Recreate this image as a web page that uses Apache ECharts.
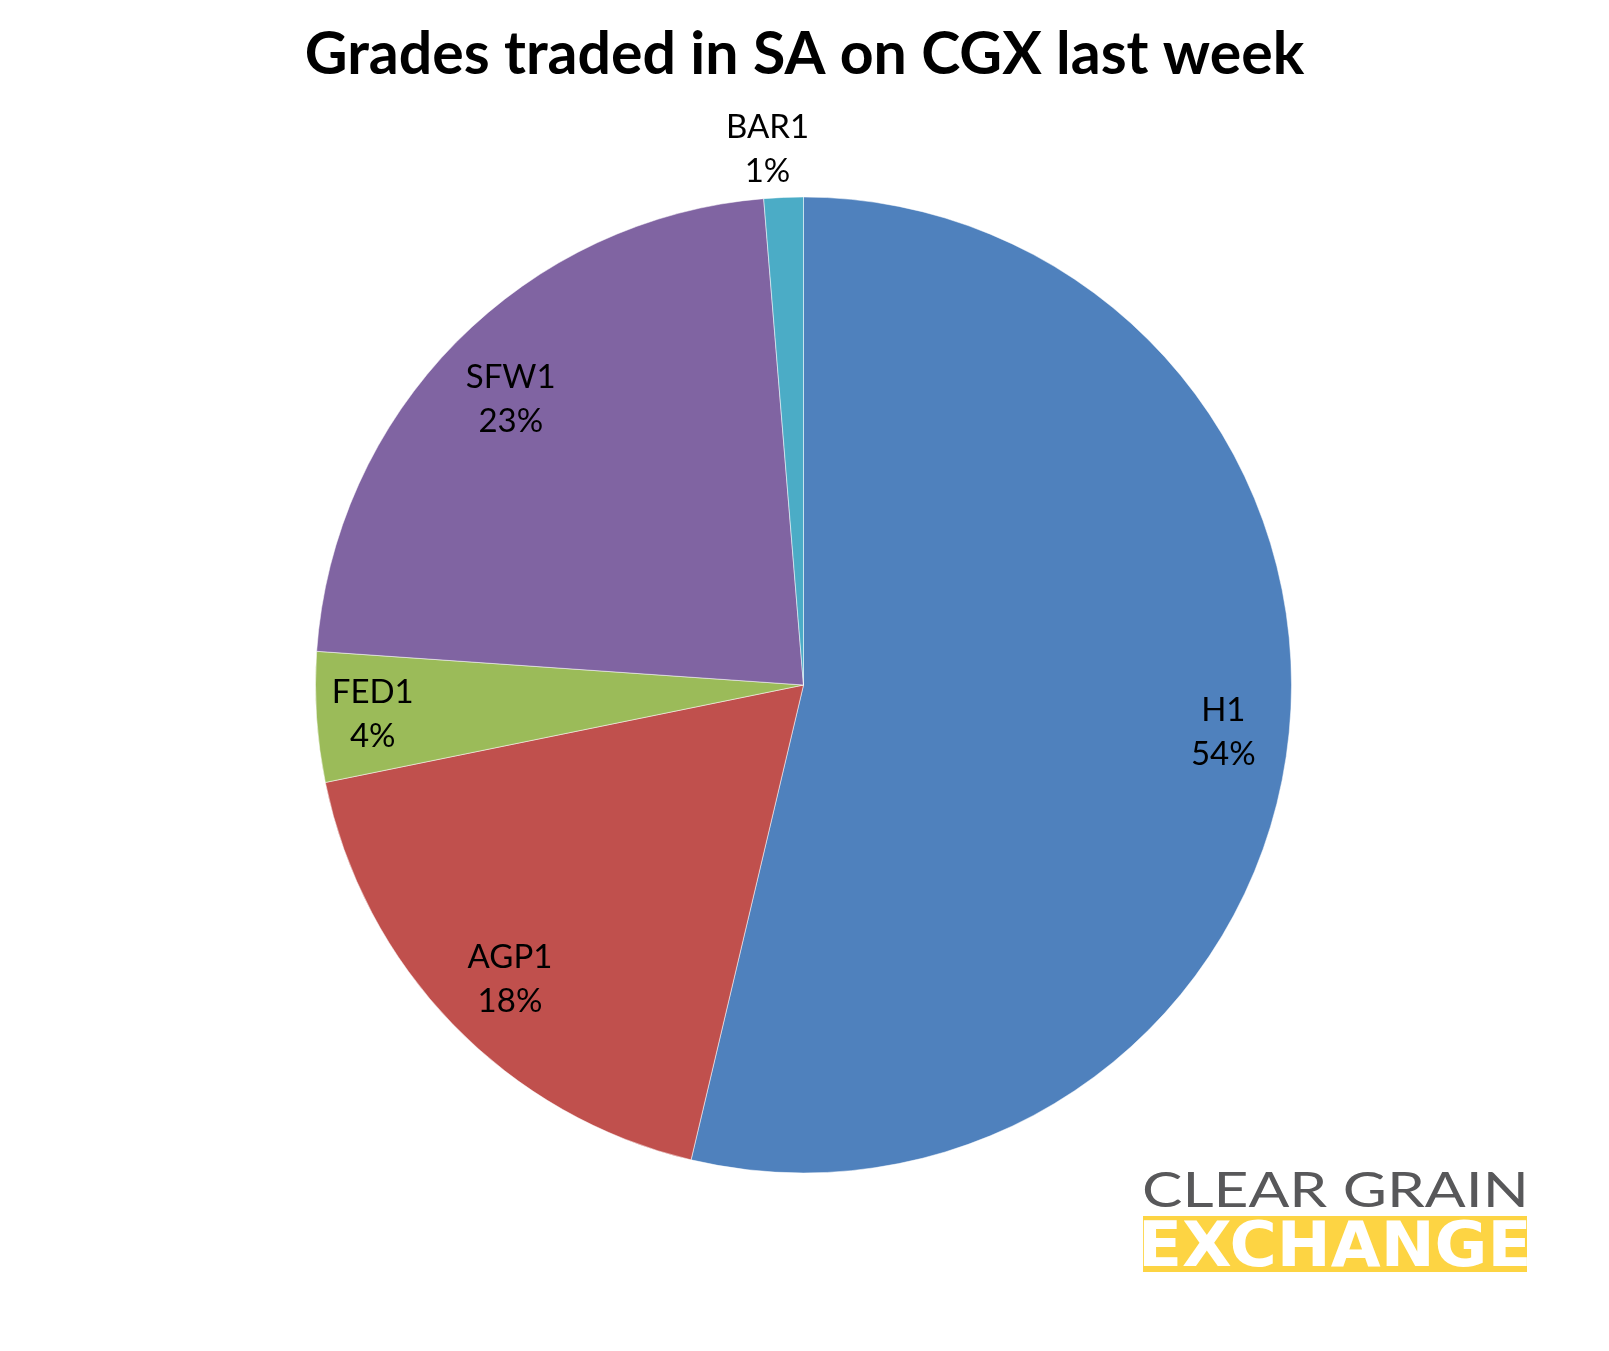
<!DOCTYPE html>
<html>
<head>
<meta charset="utf-8">
<script src="https://cdn.jsdelivr.net/npm/echarts@6/dist/echarts.min.js"></script>
<style>html,body{margin:0;padding:0;background:#fff;}#c{width:1609px;height:1351px;}</style>
</head>
<body>
<div id="c"></div>
<script>
const categories = ['H1', 'AGP1', 'FED1', 'SFW1', 'BAR1'];
const values = [53.7, 18.1, 4.3, 22.6, 1.3];
const colors = ['#4F81BD', '#C0504D', '#9BBB59', '#8064A2', '#4BACC6'];
const outsideLabels = ['BAR1'];

// small label nudges (px) to mimic the original placement
const labelNudge = { H1: [0, -2], AGP1: [10, 0], FED1: [-9, 1], SFW1: [8, 11], BAR1: [-14, 4] };

const chart = echarts.init(document.getElementById('c'));
const center = [803.5, 685];
const R = 488;
const fmt = p => p.name + '\n' + Math.round(p.percent) + '%';
const labelStyle = { color: '#000', fontFamily: 'Lato', fontSize: 33, lineHeight: 44, formatter: fmt };
const nudge = p => {
  const n = labelNudge[categories[p.dataIndex]] || [0, 0];
  return { dx: n[0], dy: n[1] };
};

const base = categories.map((n, i) => ({ name: n, value: values[i] }));

chart.setOption({
  animation: false,
  title: {
    text: 'Grades traded in SA on CGX last week',
    left: 'center', top: 20,
    textStyle: { fontFamily: 'Lato', fontWeight: 'bold', fontSize: 59, color: '#000' }
  },
  series: [
    {
      type: 'pie', center: center, radius: [0, R], startAngle: 90, clockwise: true,
      silent: true, label: { show: false }, labelLine: { show: false },
      itemStyle: { borderColor: 'rgba(255,255,255,0.5)', borderWidth: 1 },
      data: base.map((d, i) => ({ name: d.name, value: d.value, itemStyle: { color: colors[i] } }))
    },
    {
      type: 'pie', center: center, radius: [R * 0.72, R], startAngle: 90, clockwise: true,
      silent: true, z: 5,
      itemStyle: { color: 'rgba(0,0,0,0)' },
      label: Object.assign({ show: true, position: 'inside' }, labelStyle),
      labelLine: { show: false },
      labelLayout: nudge,
      data: base.map(d => ({ name: d.name, value: d.value, label: { show: outsideLabels.indexOf(d.name) < 0 } }))
    },
    {
      type: 'pie', center: center, radius: [R, R * 1.2], startAngle: 90, clockwise: true,
      silent: true, z: 5,
      itemStyle: { color: 'rgba(0,0,0,0)' },
      label: Object.assign({ show: true, position: 'inside' }, labelStyle),
      labelLine: { show: false },
      labelLayout: nudge,
      data: base.map(d => ({ name: d.name, value: d.value, label: { show: outsideLabels.indexOf(d.name) >= 0 } }))
    }
  ],
  graphic: [
    {
      type: 'text', x: 1142, y: 1168, scaleX: 1.26, scaleY: 1,
      style: { text: 'CLEAR GRAIN', fontFamily: 'Lato', fontSize: 48, fill: '#58585A', fontWeight: 'normal', align: 'left', verticalAlign: 'top' }
    },
    {
      type: 'rect', shape: { x: 1143, y: 1216, width: 384, height: 56 },
      style: { fill: '#FDD443' }
    },
    {
      type: 'text', x: 1138, y: 1219, scaleX: 1.04, scaleY: 1,
      style: { text: 'EXCHANGE', fontFamily: 'DejaVu Sans', fontWeight: 'bold', fontSize: 62, fill: '#fff', align: 'left', verticalAlign: 'top' }
    }
  ]
});
</script>
</body>
</html>
